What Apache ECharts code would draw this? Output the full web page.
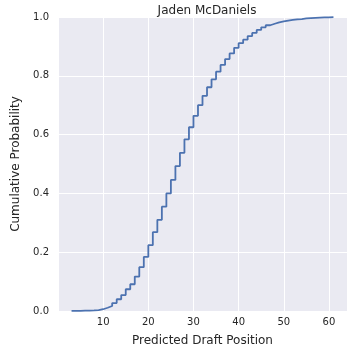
<!DOCTYPE html>
<html>
<head>
<meta charset="utf-8">
<script src="https://cdn.jsdelivr.net/npm/echarts@6/dist/echarts.min.js"></script>
<style>html,body{margin:0;padding:0;background:#fff;}#c{width:360px;height:360px;}</style>
</head>
<body>
<div id="c"></div>
<script>
const titleText = "Jaden McDaniels";
const xName = "Predicted Draft Position";
const yName = "Cumulative Probability";
const positions = [3,4,5,6,7,8,9,10,11,12,13,14,15,16,17,18,19,20,21,22,23,24,25,26,27,28,29,30,31,32,33,34,35,36,37,38,39,40,41,42,43,44,45,46,47,48,49,50,51,52,53,54,55,56,57,58,59,60,61];
const cdf = [0.0002,0.0005,0.001,0.0015,0.002,0.003,0.006,0.011,0.017,0.027,0.04,0.054,0.074,0.091,0.117,0.149,0.184,0.224,0.268,0.31,0.355,0.40,0.446,0.493,0.538,0.584,0.625,0.664,0.70,0.732,0.761,0.788,0.814,0.837,0.857,0.876,0.895,0.911,0.923,0.935,0.946,0.956,0.965,0.972,0.977,0.982,0.985,0.988,0.990,0.992,0.993,0.995,0.996,0.997,0.998,0.9985,0.999,0.9995,1.0];

const chart = echarts.init(document.getElementById('c'), null, {renderer:'canvas'});
const txt = '#262626';
const ff = 'DejaVu Sans';
chart.setOption({
  animation: false,
  backgroundColor: '#ffffff',
  title: {text: titleText, left: 202, top: 0, textAlign: 'center',
    textStyle: {fontFamily: ff, fontSize: 12, fontWeight: 'normal', color: txt}},
  grid: {left: 58, right: 13, top: 17, bottom: 49, show: true, backgroundColor: '#eaeaf2', borderWidth: 0},
  xAxis: {type: 'value', min: 0, max: 64, interval: 10,
    name: xName, nameLocation: 'middle', nameGap: 24,
    nameTextStyle: {fontFamily: ff, fontSize: 12, color: txt},
    axisLine: {show: false}, axisTick: {show: false},
    axisLabel: {fontFamily: ff, fontSize: 10, color: txt, margin: 6, showMinLabel: false, showMaxLabel: false,
      formatter: v => (v === 0 || v === 64) ? '' : String(v)},
    splitLine: {show: true, lineStyle: {color: '#ffffff', width: 1}}},
  yAxis: {type: 'value', min: 0, max: 1, interval: 0.2,
    name: yName, nameLocation: 'middle', nameGap: 35, nameRotate: 90,
    nameTextStyle: {fontFamily: ff, fontSize: 12, color: txt},
    axisLine: {show: false}, axisTick: {show: false},
    axisLabel: {fontFamily: ff, fontSize: 10, color: txt, margin: 9, formatter: v => v.toFixed(1)},
    splitLine: {show: true, lineStyle: {color: '#ffffff', width: 1}}},
  series: [{type: 'line', step: 'end', showSymbol: false,
    data: positions.map((p, i) => [p, cdf[i]]),
    lineStyle: {color: '#4c72b0', width: 1.8}, itemStyle: {color: '#4c72b0'}}]
});
</script>
</body>
</html>
